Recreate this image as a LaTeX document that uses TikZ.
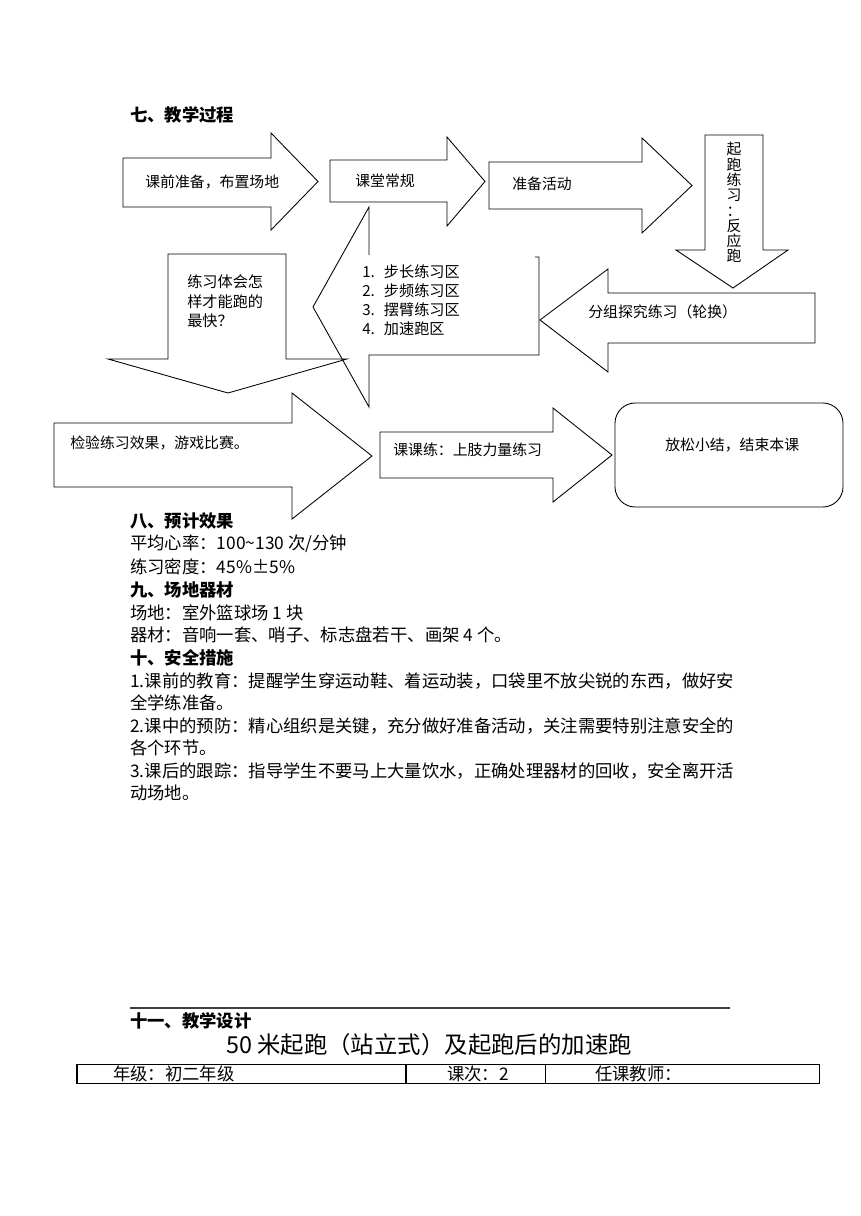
\documentclass[tikz,border=0pt]{standalone}
\usepackage{fontspec}
\setmainfont{Noto Sans CJK SC}
\usetikzlibrary{positioning}

\tikzset{
  shapeline/.style={line width=0.6pt},
  boxtext/.style={anchor=west, inner sep=0pt, font=\fontsize{10.3}{12}\selectfont},
  bodytext/.style={anchor=west, inner sep=0pt, font=\fontsize{12}{14}\selectfont}
}

\begin{document}
\begin{tikzpicture}[x=0.6922pt, y=-0.6922pt]
\useasboundingbox (0,0) rectangle (860,1216);

\node[bodytext, font=\fontsize{12}{14}\selectfont\bfseries] (procTitle) at (130,115) {七、教学过程};

% right-pointing block arrows
\foreach \lx/\bt/\bb/\hx/\hu/\hd/\tipx/\nm/\tx/\ty/\txt in {%
    123/158/207/271/133/230/318/prep/145/182/{课前准备，布置场地},
    330/160/202/447/137/226/485/routine/355/181/{课堂常规},
    489/162/209/642/138/233/692/warmup/512/184/{准备活动},
    54/423/487/292/393/519/372/check/70/443/{检验练习效果，游戏比赛。},
    380/432/478/553/408/502/612/upper/393/450/{课课练：上肢力量练习}}
{
    \draw[shapeline] (\lx,\bt) -- (\hx,\bt) -- (\hx,\hu) -- (\tipx,{(\hu+\hd)/2})
        -- (\hx,\hd) -- (\hx,\bb) -- (\lx,\bb) -- cycle;
    \node[boxtext] (\nm) at (\tx,\ty) {\txt};
}

% down arrows
\draw[shapeline] (705,135) -- (763,135) -- (763,250) -- (788,250) -- (733,288)
    -- (676,250) -- (705,250) -- cycle;
\node[anchor=north, inner sep=0pt, align=center, font=\fontsize{10.3}{10.6}\selectfont]
    (start) at (734,142) {起\\跑\\练\\习\\：\\反\\应\\跑};

\draw[shapeline] (168,254) -- (286,254) -- (286,359) -- (347,359) -- (228,393)
    -- (108,359) -- (168,359) -- cycle;
\node[anchor=north west, inner sep=0pt, align=left, font=\fontsize{10.5}{13.8}\selectfont]
    (think) at (187,274) {练习体会怎\\样才能跑的\\最快？};

% left arrows
\draw[shapeline] (815,293) -- (608,293) -- (608,269) -- (540,320) -- (608,372)
    -- (608,343) -- (815,343) -- cycle;
\node[boxtext] (group) at (588,312) {分组探究练习（轮换）};

\draw[shapeline] (535,257) -- (539,257) -- (539,355) -- (369,355) -- (369,407)
    -- (313,307) -- (369,207) -- (369,255);
\foreach \zone [count=\i] in {步长练习区, 步频练习区, 摆臂练习区, 加速跑区}
{
    \node[boxtext, font=\fontsize{10.5}{12}\selectfont] (zone\i) at (362,{253+\i*19})
        {\makebox[15pt][l]{\i.}\zone};
}

% rounded end box
\draw[shapeline, rounded corners=14pt] (615,403) rectangle (843,507);
\node[boxtext] (relax) at (665,445) {放松小结，结束本课};

% text below the chart
\foreach \y/\txt [count=\i] in {%
    521/{\bfseries 八、预计效果},
    544/{平均心率：100\textasciitilde130 次/分钟},
    567/{练习密度：45\%±5\%},
    590/{\bfseries 九、场地器材},
    613/{场地：室外篮球场 1 块},
    635/{器材：音响一套、哨子、标志盘若干、画架 4 个。},
    658/{\bfseries 十、安全措施},
    681/{1.课前的教育：提醒学生穿运动鞋、着运动装，口袋里不放尖锐的东西，做好安},
    703/{全学练准备。},
    726/{2.课中的预防：精心组织是关键，充分做好准备活动，关注需要特别注意安全的},
    748/{各个环节。},
    771/{3.课后的跟踪：指导学生不要马上大量饮水，正确处理器材的回收，安全离开活},
    793/{动场地。}}
{
    \node[bodytext] (line\i) at (130,\y) {\txt};
}

% section eleven
\coordinate (ruleL) at (130,1008);
\coordinate (ruleR) at (730,1008);
\draw[line width=0.8pt, black!75] (ruleL) -- (ruleR);
\node[bodytext, font=\fontsize{12}{14}\selectfont\bfseries] (designTitle) at (130,1021) {十一、教学设计};
\node[inner sep=0pt, font=\fontsize{16.2}{18}\selectfont] (lessonTitle) at (429,1045)
    {50 米起跑（站立式）及起跑后的加速跑};

\draw[line width=0.7pt] (77,1064) rectangle (819,1083);
\draw[line width=0.7pt] (406,1064) -- (406,1083);
\draw[line width=0.7pt] (545,1064) -- (545,1083);
\node[bodytext] (grade) at (113,1074) {年级：初二年级};
\node[bodytext] (period) at (447,1074) {课次：2};
\node[bodytext] (teacher) at (595,1074) {任课教师：};
\end{tikzpicture}
\end{document}
